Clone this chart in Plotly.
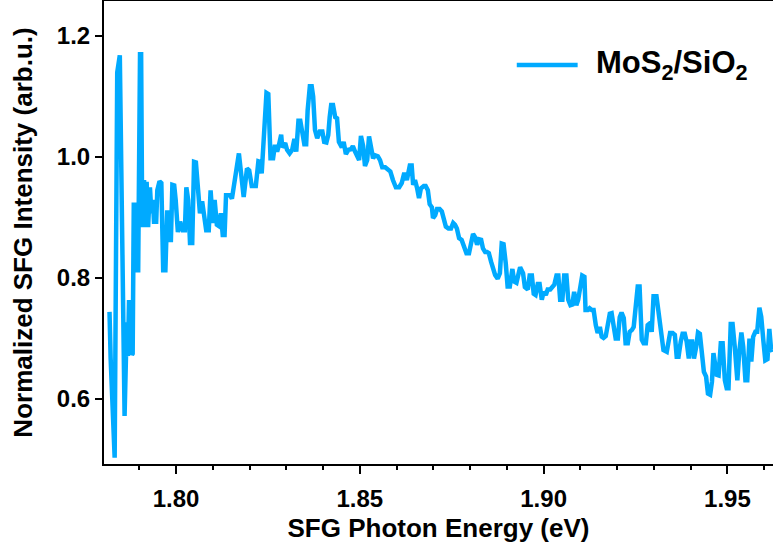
import plotly.graph_objects as go

# SFG spectrum of MoS2 on SiO2, normalized intensity vs photon energy (eV)
energy_low = [
    1.7819, 1.7822, 1.7833, 1.7840, 1.7847, 1.7860, 1.7866, 1.7869, 1.7872, 1.7877,
    1.7880, 1.7882, 1.7885, 1.7889, 1.7892, 1.7897, 1.7902, 1.7905, 1.7908, 1.7913,
    1.7916, 1.7920, 1.7924, 1.7929, 1.7933, 1.7937, 1.7940, 1.7946, 1.7949, 1.7955,
    1.7960, 1.7965, 1.7971, 1.7976, 1.7980, 1.7986, 1.7990, 1.7995, 1.7999, 1.8005,
    1.8011, 1.8018, 1.8024, 1.8028, 1.8033, 1.8038, 1.8044, 1.8049, 1.8054, 1.8060,
    1.8065, 1.8071, 1.8076, 1.8082, 1.8089, 1.8094, 1.8100, 1.8105, 1.8111, 1.8116,
    1.8122, 1.8127, 1.8132, 1.8136, 1.8141, 1.8147, 1.8152, 1.8158, 1.8163, 1.8171,
]
intensity_low = [
    0.744, 0.668, 0.503, 1.140, 1.168, 0.572, 0.727, 0.671, 0.760, 0.760,
    0.673, 0.675, 0.921, 0.921, 0.813, 0.813, 1.170, 1.170, 0.884, 0.962,
    0.884, 0.959, 0.884, 0.950, 0.907, 0.929, 0.893, 0.893, 0.945, 0.960,
    0.957, 0.813, 0.813, 0.912, 0.863, 0.863, 0.954, 0.953, 0.929, 0.876,
    0.893, 0.879, 0.879, 0.950, 0.929, 0.858, 0.858, 0.992, 0.991, 0.945,
    0.907, 0.927, 0.907, 0.879, 0.879, 0.945, 0.891, 0.929, 0.888, 0.886,
    0.907, 0.871, 0.871, 0.937, 0.937, 0.937, 0.931, 0.959, 0.970, 1.006,
]

energy_peak = [
    1.8184, 1.8193, 1.8199, 1.8206, 1.8217, 1.8224, 1.8229, 1.8233, 1.8246, 1.8251,
    1.8257, 1.8264, 1.8269, 1.8275, 1.8280, 1.8286, 1.8289, 1.8297, 1.8302, 1.8309,
    1.8316, 1.8322, 1.8327, 1.8333, 1.8338, 1.8344, 1.8349, 1.8354, 1.8358, 1.8364,
    1.8369, 1.8373, 1.8378, 1.8384, 1.8391, 1.8398, 1.8403, 1.8409, 1.8414, 1.8418,
    1.8422, 1.8427, 1.8433, 1.8438, 1.8443, 1.8451, 1.8456, 1.8462, 1.8469, 1.8476,
    1.8481, 1.8487, 1.8492, 1.8498, 1.8503, 1.8509, 1.8514, 1.8520, 1.8525, 1.8530,
    1.8536, 1.8541, 1.8549, 1.8555,
]
intensity_peak = [
    0.934, 0.981, 0.978, 0.952, 0.952, 0.993, 0.992, 0.973, 1.106, 1.104,
    0.998, 0.998, 1.020, 1.009, 1.020, 1.037, 1.016, 1.023, 1.012, 1.006,
    1.012, 1.030, 1.009, 1.060, 1.060, 1.036, 1.021, 1.021, 1.077, 1.117,
    1.117, 1.100, 1.045, 1.031, 1.042, 1.042, 1.025, 1.024, 1.036, 1.066,
    1.086, 1.086, 1.066, 1.064, 1.025, 1.016, 1.025, 1.005, 1.012, 1.013,
    1.018, 1.009, 1.000, 0.995, 1.035, 1.018, 0.985, 0.995, 1.034, 1.017,
    0.998, 1.003, 1.001, 0.995,
]

energy_fall = [
    1.8561, 1.8569, 1.8576, 1.8583, 1.8590, 1.8598, 1.8607, 1.8614, 1.8621, 1.8628,
    1.8636, 1.8641, 1.8645, 1.8650, 1.8656, 1.8661, 1.8666, 1.8674, 1.8679, 1.8685,
    1.8690, 1.8696, 1.8699, 1.8705, 1.8710, 1.8717, 1.8723, 1.8728, 1.8734, 1.8741,
    1.8748, 1.8754, 1.8759, 1.8764, 1.8770, 1.8777, 1.8783, 1.8790, 1.8797, 1.8802,
    1.8808, 1.8813, 1.8819, 1.8824, 1.8830, 1.8835, 1.8841, 1.8846, 1.8851, 1.8857,
    1.8862, 1.8868, 1.8875, 1.8881, 1.8886, 1.8891, 1.8897, 1.8902, 1.8908, 1.8915,
    1.8920, 1.8926,
]
intensity_fall = [
    0.983, 0.983, 0.980, 0.976, 0.962, 0.950, 0.950, 0.957, 0.974, 0.962,
    0.986, 0.986, 0.954, 0.962, 0.948, 0.932, 0.948, 0.952, 0.952, 0.945,
    0.922, 0.917, 0.899, 0.904, 0.914, 0.914, 0.910, 0.896, 0.885, 0.882,
    0.882, 0.891, 0.888, 0.882, 0.866, 0.863, 0.852, 0.841, 0.841, 0.860,
    0.873, 0.868, 0.855, 0.864, 0.863, 0.849, 0.843, 0.843, 0.841, 0.827,
    0.816, 0.805, 0.799, 0.808, 0.857, 0.856, 0.824, 0.786, 0.786, 0.815,
    0.794, 0.792,
]

energy_tail = [
    1.8936, 1.8944, 1.8949, 1.8957, 1.8962, 1.8968, 1.8973, 1.8978, 1.8984, 1.8989,
    1.8995, 1.9000, 1.9006, 1.9011, 1.9018, 1.9024, 1.9029, 1.9035, 1.9040, 1.9045,
    1.9051, 1.9056, 1.9062, 1.9067, 1.9073, 1.9078, 1.9083, 1.9089, 1.9094, 1.9100,
    1.9105, 1.9111, 1.9114, 1.9120, 1.9125, 1.9131, 1.9136, 1.9142, 1.9147, 1.9153,
    1.9158, 1.9163, 1.9169, 1.9180, 1.9185, 1.9191, 1.9196, 1.9202, 1.9207, 1.9212,
    1.9218, 1.9223, 1.9229, 1.9234, 1.9240, 1.9245, 1.9256, 1.9261, 1.9267, 1.9272,
    1.9278, 1.9283, 1.9289, 1.9294, 1.9299, 1.9307,
]
intensity_tail = [
    0.818, 0.808, 0.785, 0.781, 0.804, 0.804, 0.774, 0.772, 0.790, 0.790,
    0.764, 0.777, 0.772, 0.781, 0.781, 0.787, 0.789, 0.804, 0.804, 0.764,
    0.764, 0.804, 0.804, 0.764, 0.755, 0.756, 0.777, 0.755, 0.764, 0.786,
    0.804, 0.802, 0.747, 0.747, 0.750, 0.747, 0.747, 0.722, 0.709, 0.719,
    0.703, 0.701, 0.704, 0.741, 0.742, 0.719, 0.700, 0.700, 0.735, 0.743,
    0.734, 0.692, 0.692, 0.711, 0.714, 0.719, 0.786, 0.786, 0.698, 0.692,
    0.692, 0.722, 0.725, 0.711, 0.770, 0.770,
]

energy_high = [
    1.9315, 1.9320, 1.9326, 1.9335, 1.9340, 1.9344, 1.9351, 1.9357, 1.9362, 1.9367,
    1.9373, 1.9378, 1.9384, 1.9389, 1.9395, 1.9398, 1.9404, 1.9409, 1.9415, 1.9420,
    1.9425, 1.9431, 1.9436, 1.9442, 1.9447, 1.9453, 1.9458, 1.9462, 1.9467, 1.9471,
    1.9476, 1.9482, 1.9487, 1.9493, 1.9498, 1.9503, 1.9509, 1.9514, 1.9520, 1.9527,
    1.9532, 1.9538, 1.9543, 1.9549, 1.9554, 1.9560, 1.9565, 1.9570, 1.9576, 1.9581,
    1.9587, 1.9592, 1.9598, 1.9603, 1.9609, 1.9614, 1.9619, 1.9625,
]
intensity_high = [
    0.731, 0.703, 0.681, 0.678, 0.695, 0.709, 0.709, 0.706, 0.670, 0.670,
    0.695, 0.708, 0.708, 0.695, 0.667, 0.695, 0.695, 0.667, 0.686, 0.710,
    0.708, 0.673, 0.645, 0.637, 0.609, 0.607, 0.629, 0.676, 0.659, 0.640,
    0.639, 0.692, 0.692, 0.631, 0.618, 0.618, 0.724, 0.724, 0.686, 0.631,
    0.676, 0.710, 0.686, 0.631, 0.631, 0.700, 0.662, 0.703, 0.711, 0.711,
    0.751, 0.736, 0.695, 0.664, 0.666, 0.716, 0.681, 0.682,
]

energy = energy_low + energy_peak + energy_fall + energy_tail + energy_high
intensity = intensity_low + intensity_peak + intensity_fall + intensity_tail + intensity_high

series_name = "MoS<sub>2</sub>/SiO<sub>2</sub>"
line_color = "#00AAFF"
font_family = "Liberation Sans, Arial, sans-serif"

fig = go.Figure()
fig.add_trace(go.Scatter(
    x=energy, y=intensity, mode="lines",
    line=dict(color=line_color, width=4.5),
    name=series_name, showlegend=False,
))

# legend key drawn as a short line plus label
fig.add_shape(type="line", xref="paper", yref="paper",
              x0=0.617, x1=0.708, y0=0.862, y1=0.862,
              line=dict(color=line_color, width=4.5))
fig.add_annotation(text=series_name, xref="paper", yref="paper",
                   x=0.733, y=0.862, xanchor="left", yanchor="middle",
                   showarrow=False,
                   font=dict(family=font_family, size=31, color="black", weight="bold"))

axis_common = dict(
    showgrid=False, zeroline=False,
    showline=True, linecolor="black", linewidth=2,
    ticks="outside", tickcolor="black", tickwidth=2,
    tickfont=dict(family=font_family, size=24, color="black", weight="bold"),
)

fig.update_xaxes(
    **axis_common,
    range=[1.7804, 1.9624], tick0=1.80, dtick=0.05, tickformat=".2f",
    ticklen=8, mirror=True, ticklabelstandoff=4,
    minor=dict(tick0=1.80, dtick=0.01, ticks="outside", ticklen=4,
               tickwidth=2, tickcolor="black"),
    title=dict(text="SFG Photon Energy (eV)", standoff=8,
               font=dict(family=font_family, size=26, color="black", weight="bold")),
)
fig.update_yaxes(
    **axis_common,
    range=[0.4926, 1.2579], tick0=0.6, dtick=0.2, tickformat=".1f",
    ticklen=7,
    title=dict(text="Normalized SFG Intensity (arb.u.)", standoff=17,
               font=dict(family=font_family, size=26, color="black", weight="bold")),
)

fig.update_layout(
    width=773, height=556,
    margin=dict(l=104, r=0, t=1, b=92, autoexpand=False),
    paper_bgcolor="white", plot_bgcolor="white",
)

fig.write_html("out.html")
